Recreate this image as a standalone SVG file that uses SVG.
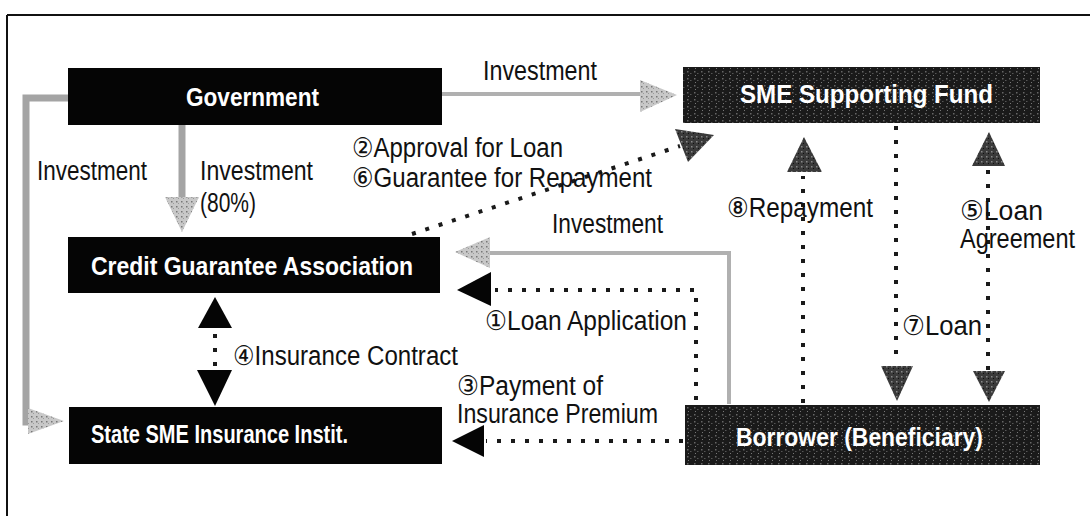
<svg xmlns="http://www.w3.org/2000/svg" width="1090" height="516" viewBox="0 0 1090 516">
<defs>
<pattern id="grain" width="7" height="7" patternUnits="userSpaceOnUse">
<rect width="7" height="7" fill="#1a1a1a"/>
<rect x="1" y="1" width="1.5" height="1.5" fill="#666"/>
<rect x="4" y="3" width="1.5" height="1" fill="#555"/>
<rect x="2" y="5" width="1" height="1" fill="#777"/>
</pattern>
<pattern id="dgrain" width="5" height="5" patternUnits="userSpaceOnUse">
<rect width="5" height="5" fill="#3a3a3a"/>
<rect x="1" y="1" width="1.5" height="1.5" fill="#888"/>
<rect x="3" y="3" width="1" height="1" fill="#111"/>
</pattern>
<pattern id="lgrain" width="5" height="5" patternUnits="userSpaceOnUse">
<rect width="5" height="5" fill="#c8c8c8"/>
<rect x="1" y="1" width="1.5" height="1.5" fill="#777"/>
<rect x="3" y="3" width="1" height="1" fill="#999"/>
</pattern>
</defs>
<style>
.box{fill:#050505}
.tbox{fill:url(#grain)}
.nt{font-family:"Liberation Sans","DejaVu Sans",sans-serif;font-size:25px;font-weight:bold;fill:#fff}
.lb{font-family:"Liberation Sans","DejaVu Sans",sans-serif;font-size:27px;fill:#111}
.gray{fill:none;stroke:#b0b0b0;stroke-width:4}
.grayw{fill:none;stroke:#a4a4a4;stroke-width:7}
.dot{fill:none;stroke:#1a1a1a;stroke-width:4;stroke-dasharray:4 10}
.ga{fill:url(#lgrain)}
.ba{fill:#050505}
.da{fill:url(#dgrain)}
</style>
<rect width="1090" height="516" fill="#fff"/>
<g id="frame">
<line x1="7" y1="15" x2="1090" y2="15" stroke="#111" stroke-width="2"/>
<line x1="7" y1="15" x2="7" y2="516" stroke="#111" stroke-width="2"/>
</g>
<g id="connectors">
<line class="gray" x1="442" y1="94" x2="645" y2="94"/>
<polygon class="ga" points="640,80 677,95 640,112"/>
<polyline class="grayw" points="68,98 26,98 26,422 40,422"/>
<polygon class="ga" points="28,408 64,421 28,434"/>
<line class="grayw" x1="182" y1="125" x2="182" y2="200"/>
<polygon class="ga" points="165,197 199,197 182,232"/>
<line class="dot" x1="412" y1="234" x2="680" y2="146"/>
<polygon class="da" points="675,129 714,135 688,162"/>
<polyline class="gray" points="729,404 729,253 485,253"/>
<polygon class="ga" points="490,237 455,252 490,268"/>
<polyline class="dot" points="696,400 696,290 495,290"/>
<polygon class="ba" points="491,272 457,290 491,306"/>
<line class="dot" x1="683" y1="441" x2="486" y2="441"/>
<polygon class="ba" points="484,425 452,441 484,457"/>
<line class="dot" x1="215" y1="334" x2="215" y2="366"/>
<polygon class="ba" points="198,328 232,328 215,297"/>
<polygon class="ba" points="197,370 232,370 215,406"/>
<line class="dot" x1="803" y1="403" x2="803" y2="176"/>
<polygon class="da" points="787,172 822,172 804,137"/>
<line class="dot" x1="896" y1="126" x2="896" y2="364"/>
<polygon class="da" points="881,366 913,366 897,401"/>
<line class="dot" x1="988" y1="170" x2="988" y2="370"/>
<polygon class="da" points="972,166 1005,166 989,132"/>
<polygon class="da" points="973,371 1005,371 989,402"/>
</g>
<g id="labels">
<text class="lb" x="483" y="80" textLength="114" lengthAdjust="spacingAndGlyphs">Investment</text>
<text class="lb" x="37" y="180" textLength="110" lengthAdjust="spacingAndGlyphs">Investment</text>
<text class="lb" x="200" y="180" textLength="113" lengthAdjust="spacingAndGlyphs">Investment</text>
<text class="lb" x="200" y="212" textLength="56" lengthAdjust="spacingAndGlyphs">(80%)</text>
<text class="lb" x="352" y="157" textLength="211" lengthAdjust="spacingAndGlyphs">②Approval for Loan</text>
<text class="lb" x="352" y="187" textLength="300" lengthAdjust="spacingAndGlyphs">⑥Guarantee for Repayment</text>
<text class="lb" x="552" y="233" textLength="111" lengthAdjust="spacingAndGlyphs">Investment</text>
<text class="lb" x="485" y="330" textLength="202" lengthAdjust="spacingAndGlyphs">①Loan Application</text>
<text class="lb" x="233" y="365" textLength="225" lengthAdjust="spacingAndGlyphs">④Insurance Contract</text>
<text class="lb" x="457" y="395" textLength="146" lengthAdjust="spacingAndGlyphs">③Payment of</text>
<text class="lb" x="457" y="423" textLength="201" lengthAdjust="spacingAndGlyphs">Insurance Premium</text>
<text class="lb" x="727" y="217" textLength="146" lengthAdjust="spacingAndGlyphs">⑧Repayment</text>
<text class="lb" x="960" y="220" textLength="83" lengthAdjust="spacingAndGlyphs">⑤Loan</text>
<text class="lb" x="960" y="248" textLength="115" lengthAdjust="spacingAndGlyphs">Agreement</text>
<text class="lb" x="902" y="335" textLength="80" lengthAdjust="spacingAndGlyphs">⑦Loan</text>
</g>
<g id="government">
<rect class="box" x="68" y="68" width="374" height="57"/>
<text class="nt" x="186" y="106" textLength="133" lengthAdjust="spacingAndGlyphs">Government</text>
</g>
<g id="sme-fund">
<rect class="tbox" x="683" y="67" width="357" height="56"/>
<text class="nt" x="740" y="103" textLength="253" lengthAdjust="spacingAndGlyphs">SME Supporting Fund</text>
</g>
<g id="cga">
<rect class="box" x="68" y="237" width="372" height="56"/>
<text class="nt" x="91" y="275" textLength="322" lengthAdjust="spacingAndGlyphs">Credit Guarantee Association</text>
</g>
<g id="state-sme">
<rect class="box" x="69" y="407" width="373" height="57"/>
<text class="nt" x="91" y="443" textLength="257" lengthAdjust="spacingAndGlyphs">State SME Insurance Instit.</text>
</g>
<g id="borrower">
<rect class="tbox" x="685" y="405" width="355" height="60"/>
<text class="nt" x="736" y="446" textLength="247" lengthAdjust="spacingAndGlyphs">Borrower (Beneficiary)</text>
</g>
</svg>
